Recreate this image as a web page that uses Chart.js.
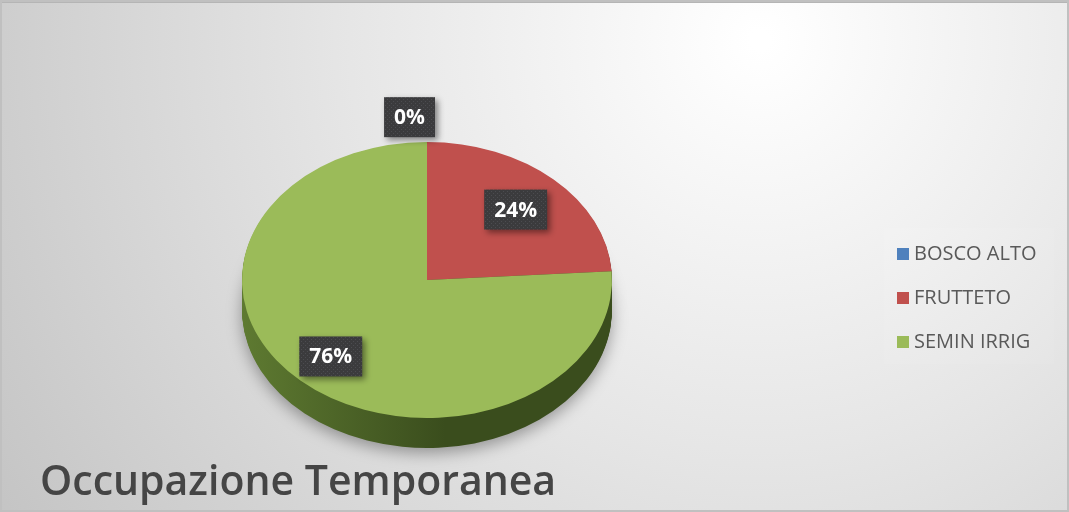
<!DOCTYPE html>
<html>
<head>
<meta charset="utf-8">
<script src="https://cdn.jsdelivr.net/npm/chart.js@4.4.0/dist/chart.umd.min.js"></script>
<style>
  html, body { margin: 0; padding: 0; background: #fff; }
</style>
</head>
<body>
<canvas id="myChart" width="1069" height="512"></canvas>
<script>
// data
var categories = ["BOSCO ALTO", "FRUTTETO", "SEMIN IRRIG"];
var values = [0, 24, 76];
var titleText = "Occupazione Temporanea";

// colours
var colors = ["#4F81BD", "#C0504D", "#9BBB59"];
var sideLight = ["#3c6594", "#8f3b39", "#5e7a31"];
var sideDark = ["#263f5e", "#5a2524", "#3a4d1d"];

// where the tilted pie goes on the page
var PIE = { x: 427, y: 280, rx: 185, ry: 138, depth: 30 };

// dotted dark fill for the data labels
var dots = document.createElement("canvas");
dots.width = 4; dots.height = 4;
var dctx = dots.getContext("2d");
dctx.fillStyle = "#3b3b3d"; dctx.fillRect(0, 0, 4, 4);
dctx.fillStyle = "#4c4c50"; dctx.fillRect(1, 1, 1, 1); dctx.fillRect(3, 3, 1, 1);

function tilt(ctx, arc, dy) {
  var R = arc.outerRadius;
  ctx.translate(PIE.x, PIE.y + dy);
  ctx.scale(PIE.rx / R, PIE.ry / R);
  ctx.translate(-arc.x, -arc.y);
}

var background = {
  id: "background",
  beforeDraw: function (chart) {
    var ctx = chart.ctx, w = chart.width, h = chart.height;
    ctx.save();
    var g = ctx.createRadialGradient(760, 40, 10, 760, 40, 900);
    g.addColorStop(0, "#ffffff");
    g.addColorStop(0.45, "#e6e6e6");
    g.addColorStop(1, "#c4c4c4");
    ctx.fillStyle = g;
    ctx.fillRect(0, 0, w, h);
    ctx.strokeStyle = "#b5b5b5";
    ctx.lineWidth = 3;
    ctx.beginPath(); ctx.moveTo(0, 1.5); ctx.lineTo(w, 1.5); ctx.stroke();
    ctx.lineWidth = 2;
    ctx.strokeStyle = "#c0c0c0";
    ctx.strokeRect(1, 1, w - 2, h - 2);
    ctx.restore();
  }
};

// side of the 3d pie + shadow
var pieSide = {
  id: "pieSide",
  beforeDatasetsDraw: function (chart) {
    var ctx = chart.ctx;
    var arcs = chart.getDatasetMeta(0).data;
    for (var d = PIE.depth; d >= 1; d--) {
      for (var i = 0; i < arcs.length; i++) {
        var a = arcs[i];
        if (a.endAngle - a.startAngle <= 0) continue;
        ctx.save();
        tilt(ctx, a, d);
        var R = a.outerRadius;
        var g = ctx.createLinearGradient(a.x - R, 0, a.x + R, 0);
        g.addColorStop(0, sideLight[i]);
        g.addColorStop(0.55, sideDark[i]);
        g.addColorStop(1, sideDark[i]);
        if (d == PIE.depth) {
          ctx.shadowColor = "rgba(0,0,0,0.35)";
          ctx.shadowBlur = 16;
          ctx.shadowOffsetY = 5;
        }
        ctx.fillStyle = g;
        ctx.beginPath();
        ctx.moveTo(a.x, a.y);
        ctx.arc(a.x, a.y, R, a.startAngle, a.endAngle);
        ctx.closePath();
        ctx.fill();
        ctx.restore();
      }
    }
  },
  beforeDatasetDraw: function (chart) {
    var ctx = chart.ctx;
    var a = chart.getDatasetMeta(0).data[0];
    ctx.save();
    tilt(ctx, a, 0);
  },
  afterDatasetDraw: function (chart) {
    chart.ctx.restore();
  }
};

// boxed percentage labels
var pieLabels = {
  id: "pieLabels",
  afterDatasetsDraw: function (chart) {
    var ctx = chart.ctx;
    var arcs = chart.getDatasetMeta(0).data;
    var total = values.reduce(function (s, v) { return s + v; }, 0);
    ctx.save();
    ctx.font = "bold 21px 'Open Sans'";
    ctx.textBaseline = "middle";
    ctx.textAlign = "center";
    for (var i = 0; i < arcs.length; i++) {
      var a = arcs[i];
      var mid = (a.startAngle + a.endAngle) / 2;
      var outside = values[i] == 0;
      var f = outside ? 1.18 : (i == 1 ? 0.7 : 0.76);
      var px = PIE.x + Math.cos(mid) * PIE.rx * f;
      var py = PIE.y + Math.sin(mid) * PIE.ry * f;
      var txt = Math.round(values[i] / total * 100) + "%";
      var bw = ctx.measureText(txt).width + 20, bh = 40;
      var bx = outside ? px - bw + 8 : px - bw / 2;
      var by = py - bh / 2;
      ctx.save();
      ctx.shadowColor = "rgba(0,0,0,0.45)";
      ctx.shadowBlur = 6;
      ctx.shadowOffsetX = 3;
      ctx.shadowOffsetY = 3;
      ctx.fillStyle = ctx.createPattern(dots, "repeat");
      ctx.fillRect(bx, by, bw, bh);
      ctx.restore();
      ctx.fillStyle = "#ffffff";
      ctx.fillText(txt, bx + bw / 2, by + bh / 2 + 1);
    }
    ctx.restore();
  }
};

// legend on the right
var sideLegend = {
  id: "sideLegend",
  afterDraw: function (chart) {
    var ctx = chart.ctx;
    ctx.save();
    ctx.fillStyle = "rgba(255,255,255,0.07)";
    ctx.fillRect(884, 228, 170, 136);
    ctx.font = "20px 'Open Sans'";
    ctx.textBaseline = "middle";
    ctx.textAlign = "left";
    for (var i = 0; i < categories.length; i++) {
      var y = 254 + i * 44;
      ctx.fillStyle = colors[i];
      ctx.fillRect(897, y - 6, 12, 12);
      ctx.fillStyle = "#595959";
      ctx.fillText(categories[i], 914, y);
    }
    ctx.restore();
  }
};

new Chart(document.getElementById("myChart"), {
  type: "pie",
  data: {
    labels: categories,
    datasets: [{
      data: values,
      backgroundColor: colors,
      borderWidth: 0,
      clip: false
    }]
  },
  options: {
    responsive: false,
    animation: false,
    layout: { padding: { left: 40, right: 20, top: 10, bottom: 4 } },
    plugins: {
      legend: { display: false },
      tooltip: { enabled: false },
      title: {
        display: true,
        text: titleText,
        position: "bottom",
        align: "start",
        color: "#454545",
        font: { family: "'Open Sans'", size: 41, weight: "600" },
        padding: { top: 0, bottom: 0 }
      }
    }
  },
  plugins: [background, pieSide, pieLabels, sideLegend]
});
</script>
</body>
</html>
